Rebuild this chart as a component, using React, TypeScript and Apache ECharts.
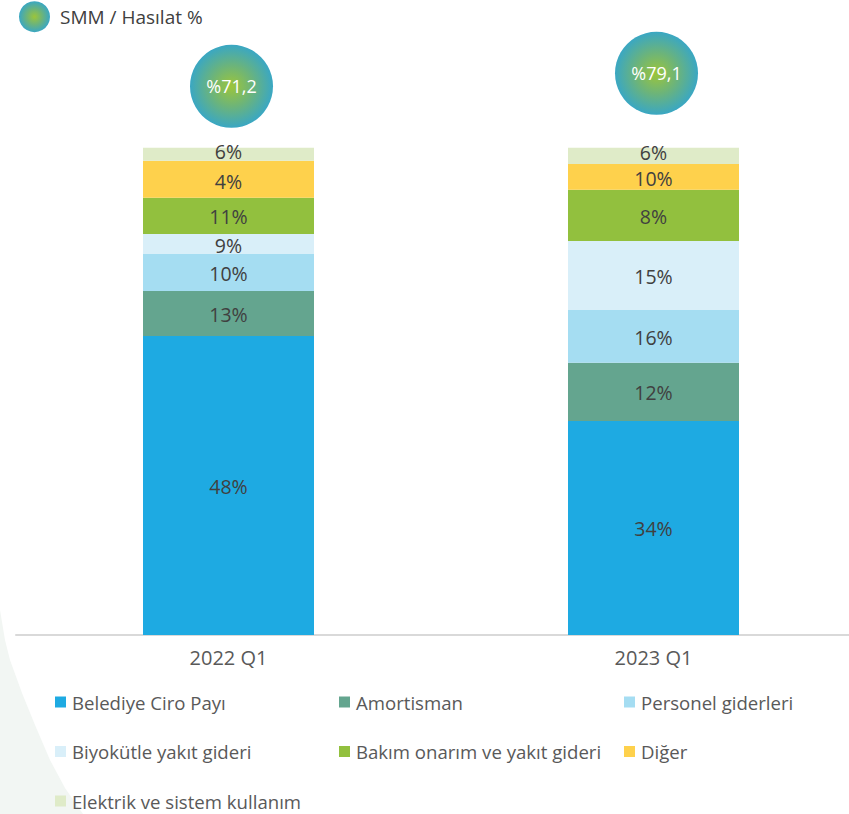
import React, { useEffect, useRef } from "react";
import * as echarts from "echarts";

const categories = ["2022 Q1", "2023 Q1"];

const seriesNames = [
  "Belediye Ciro Payı",
  "Amortisman",
  "Personel giderleri",
  "Biyokütle yakıt gideri",
  "Bakım onarım ve yakıt gideri",
  "Diğer",
  "Elektrik ve sistem kullanım",
];

// segment heights (share of stacked bar)
const belediyeValues = [61.36, 43.92];
const amortismanValues = [9.23, 11.96];
const personelValues = [7.59, 10.81];
const biyokutleValues = [4.1, 14.16];
const bakimValues = [7.45, 10.53];
const digerValues = [7.59, 5.27];
const elektrikValues = [2.67, 3.35];

// labels printed on the segments
const belediyeLabels = ["48%", "34%"];
const amortismanLabels = ["13%", "12%"];
const personelLabels = ["10%", "16%"];
const biyokutleLabels = ["9%", "15%"];
const bakimLabels = ["11%", "8%"];
const digerLabels = ["4%", "10%"];
const elektrikLabels = ["6%", "6%"];

const smmName = "SMM / Hasılat %";
const smmValues = [71.2, 79.1];
const smmLabels = ["%71,2", "%79,1"];

const seriesColors = ["#1eaae2", "#64a58f", "#a5ddf2", "#d9eff9", "#92c03e", "#fed14c", "#dfebc8"];

const FONT = "'Open Sans', 'Noto Sans', sans-serif";

export default function App() {
  const ref = useRef<HTMLDivElement>(null);

  useEffect(() => {
    if (!ref.current) return;
    const chart = echarts.init(ref.current, null, { renderer: "svg" });

    const valueSets = [
      belediyeValues,
      amortismanValues,
      personelValues,
      biyokutleValues,
      bakimValues,
      digerValues,
      elektrikValues,
    ];
    const labelSets = [
      belediyeLabels,
      amortismanLabels,
      personelLabels,
      biyokutleLabels,
      bakimLabels,
      digerLabels,
      elektrikLabels,
    ];
    const labelOffsets = [1, 1, 1, 1, 1, 2, -3];

    const barSeries = seriesNames.map((name, i) => ({
      name,
      type: "bar",
      stack: "total",
      barWidth: 171,
      data: valueSets[i],
      itemStyle: { color: seriesColors[i] },
      label: {
        show: true,
        position: "inside",
        color: "#404040",
        fontFamily: FONT,
        fontSize: 19.5,
        lineHeight: 18,
        offset: [0, labelOffsets[i]],
        formatter: (p: any) => labelSets[i][p.dataIndex],
      },
    }));

    const bubbleColor = {
      type: "radial",
      x: 0.5,
      y: 0.5,
      r: 0.5,
      colorStops: [
        { offset: 0, color: "#9cc53a" },
        { offset: 0.5, color: "#6cb47a" },
        { offset: 1, color: "#3aa7c3" },
      ],
    };

    const positions = [
      [55, 692],
      [339, 692],
      [624, 692],
      [55, 741.5],
      [339, 741.5],
      [624, 741.5],
      [55, 791],
    ];

    const bottomLegends = seriesNames.map((name, i) => ({
      data: [name],
      left: positions[i][0],
      top: positions[i][1],
      padding: 0,
      itemWidth: 11,
      itemHeight: 11,
      icon: "rect",
      selectedMode: false,
      textStyle: { color: "#595959", fontFamily: FONT, fontSize: 18.6, lineHeight: 20, padding: [0, 0, 0, 1] },
    }));

    chart.setOption({
      animation: false,
      backgroundColor: "#ffffff",
      graphic: [
        {
          type: "polygon",
          z: -10,
          silent: true,
          shape: {
            points: [
              [0, 610],
              [5, 640],
              [10, 660],
              [22, 693],
              [35, 725],
              [50, 760],
              [65, 788],
              [83, 814],
              [0, 814],
            ],
          },
          style: { fill: "#f2f6f3" },
        },
      ],
      legend: [
        {
          data: [smmName],
          left: 19,
          top: 1.2,
          padding: 0,
          itemWidth: 31,
          itemHeight: 31,
          icon: "circle",
          selectedMode: false,
          textStyle: { color: "#404040", fontFamily: FONT, fontSize: 19, padding: [0, 0, 0, 5] },
        },
        ...bottomLegends,
      ],
      grid: { left: 16, right: 0, top: 25.9, bottom: 179, containLabel: false },
      xAxis: {
        type: "category",
        data: categories,
        axisLine: { show: true, lineStyle: { color: "#d9d9d9", width: 2 } },
        axisTick: { show: false },
        axisLabel: { color: "#595959", fontFamily: FONT, fontSize: 20, margin: 12 },
      },
      yAxis: [
        { type: "value", min: 0, max: 125, show: false, splitLine: { show: false } },
        { type: "value", min: -262.24, max: 107.91, show: false, splitLine: { show: false } },
      ],
      series: [
        ...barSeries,
        {
          name: smmName,
          type: "scatter",
          yAxisIndex: 1,
          symbol: "circle",
          symbolSize: 83,
          symbolOffset: [3, 0],
          data: smmValues,
          z: 5,
          itemStyle: { color: bubbleColor, opacity: 1 },
          label: {
            show: true,
            position: "inside",
            color: "#ffffff",
            fontFamily: FONT,
            fontSize: 18,
            formatter: (p: any) => smmLabels[p.dataIndex],
          },
        },
      ],
    } as any);

    return () => chart.dispose();
  }, []);

  return (
    <div style={{ position: "absolute", left: 0, top: 0, width: 849, height: 814, overflow: "hidden" }}>
      <div ref={ref} style={{ position: "absolute", left: 0, top: 0, width: 866, height: 814 }} />
    </div>
  );
}
